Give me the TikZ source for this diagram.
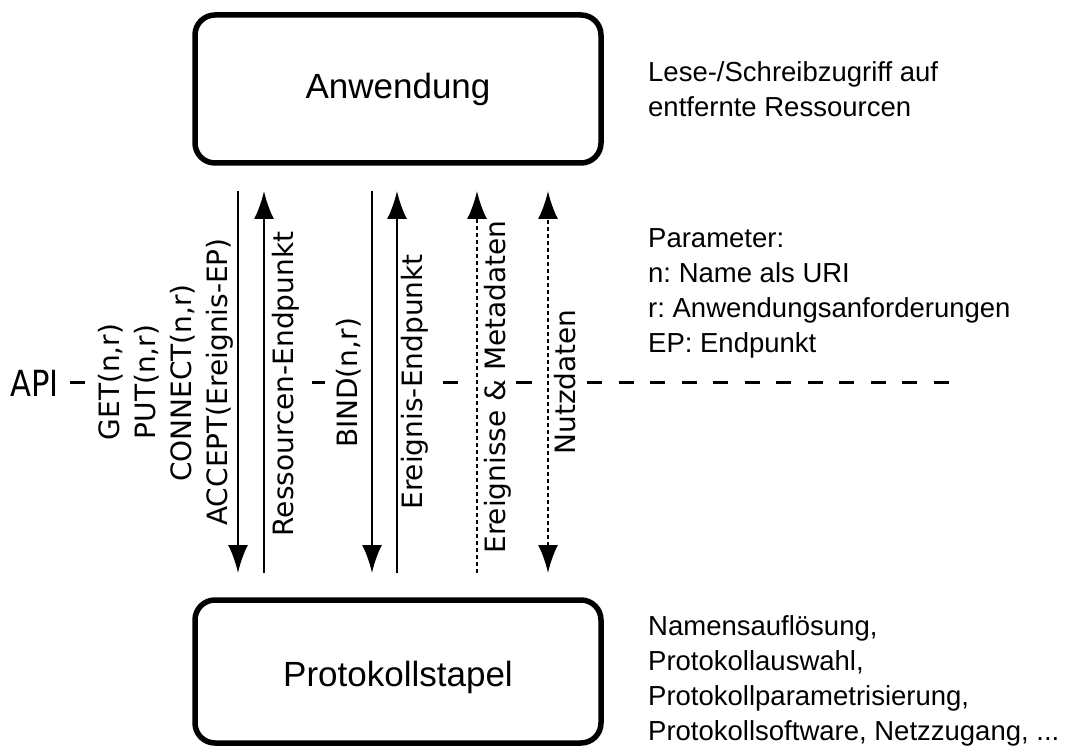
\documentclass[tikz,border=0pt]{standalone}
\usepackage{fontspec}
\setmainfont{Liberation Sans}
\newfontfamily\dejavu{DejaVu Sans}
\newfontfamily\dejavunarrow[FakeStretch=0.85]{DejaVu Sans}
\usetikzlibrary{arrows.meta}
\frenchspacing
\begin{document}
\begin{tikzpicture}[x=1pt,y=-1pt,
  layerbox/.style={draw, line width=5.5pt, rounded corners=20pt,
    minimum width=406pt, inner sep=0pt, font=\fontsize{35}{42}\selectfont},
  vlabel/.style={rotate=90, anchor=base, inner sep=0pt,
    font=\dejavu\fontsize{28}{34}\selectfont},
  note/.style={anchor=base west, align=left, inner sep=0pt,
    font=\fontsize{27.5}{35}\selectfont},
  call/.style={line width=2.5pt, -{Latex[length=28pt,width=20pt]}},
  datastream/.style={line width=2.5pt, dash pattern=on 4pt off 3pt},
  apidash/.style={line width=3pt},
]
\useasboundingbox (0,0) rectangle (1071,746);

% layers
\node[layerbox, minimum height=148pt] (app) at (398,89) {Anwendung};
\node[layerbox, minimum height=143pt, text height=29pt, text depth=0pt]
  (stack) at (398,671.5) {Protokollstapel};

% API level
\node[anchor=base west, inner sep=0pt, font=\dejavunarrow\fontsize{36}{42}\selectfont]
  (api) at (10,396) {API};
\foreach \a/\b in {70/85, 312/325, 443/458, 516/532}
  \draw[apidash] (\a,382) -- (\b,382);
\coordinate (dashstart) at (587,382);
\coordinate (dashend) at (950,382);
\draw[apidash, dash pattern=on 15pt off 16.5pt] (dashstart) -- (dashend);

% end points of the calls between the layers
\foreach \n/\x in {1/238, 2/264, 3/372, 4/397, 5/477, 6/548} {
  \coordinate (t\n) at (\x,191);
  \coordinate (b\n) at (\x,573);
}

\draw[call] (t1) -- (b1);
\draw[call] (b2) -- (t2);
\draw[call] (t3) -- (b3);
\draw[call] (b4) -- (t4);
\draw[datastream, -{Latex[length=28pt,width=20pt]}] (b5) -- (t5);
\draw[datastream, {Latex[length=28pt,width=20pt]}-{Latex[length=28pt,width=20pt]}] (b6) -- (t6);

% call labels
\node[vlabel] (get) at (119,382) {GET(n,r)};
\node[vlabel] (put) at (155,382) {PUT(n,r)};
\node[vlabel] (connect) at (191,383) {CONNECT(n,r)};
\node[vlabel] (accept) at (227,382) {ACCEPT(Ereignis-EP)};
\node[vlabel] (resep) at (293,384) {Ressourcen-Endpunkt};
\node[vlabel] (bind) at (357,383) {BIND(n,r)};
\node[vlabel] (evep) at (422,382) {Ereignis-Endpunkt};
\node[vlabel] (events) at (505,387) {Ereignisse \& Metadaten};
\node[vlabel] (payload) at (575,382) {Nutzdaten};

% notes (anchored at the baseline of their last line)
\node[note] (noteapp) at (648,117) {Lese-/Schreibzugriff auf\\entfernte Ressourcen};
\node[note] (noteparam) at (648,352) {Parameter:\\n: Name als URI\\r: Anwendungsanforderungen\\EP: Endpunkt};
\node[note] (notestack) at (648,740) {Namensauflösung,\\Protokollauswahl,\\Protokollparametrisierung,\\Protokollsoftware, Netzzugang, ...};
\end{tikzpicture}
\end{document}
